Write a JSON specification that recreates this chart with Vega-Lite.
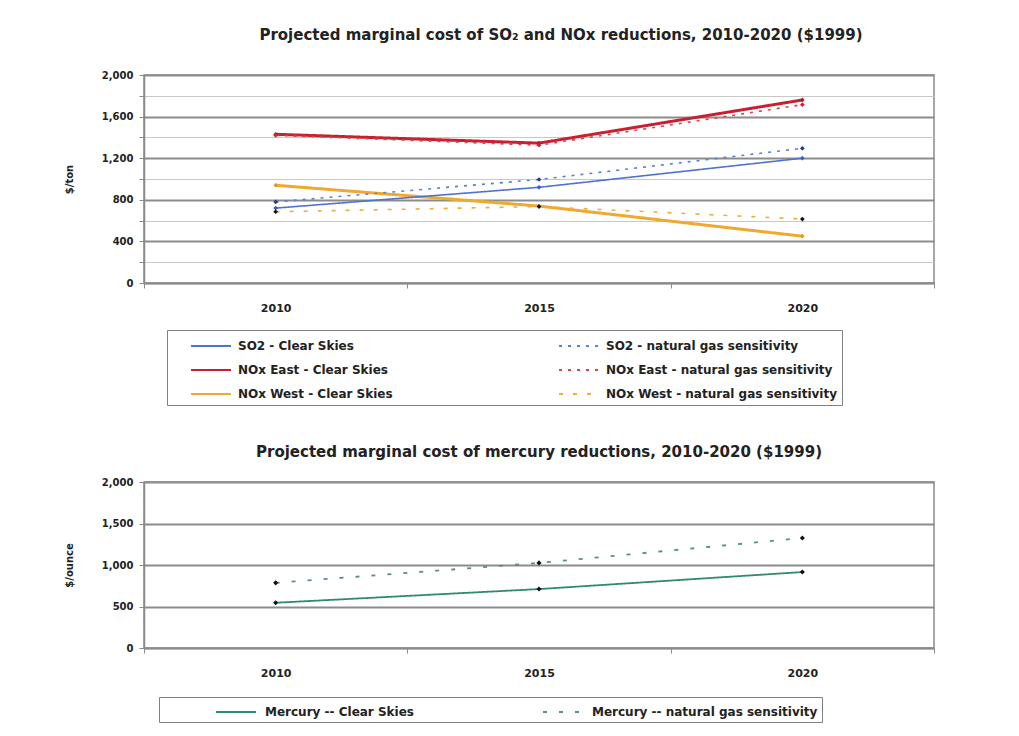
{
  "$schema": "https://vega.github.io/schema/vega-lite/v6.json",
  "background": "white",
  "padding": {"left": 63, "top": 27, "right": 30, "bottom": 0},
  "spacing": 37,
  "config": {
    "font": "DejaVu Sans",
    "view": {"stroke": "#8a8a8a", "strokeWidth": 1.5},
    "axis": {"labelFont": "DejaVu Sans", "labelFontWeight": "bold", "labelFontSize": 10, "labelColor": "#222", "titleFont": "DejaVu Sans", "titleFontWeight": "bold", "titleFontSize": 10, "titleColor": "#222", "domainColor": "#8a8a8a", "tickColor": "#8a8a8a"},
    "title": {"font": "DejaVu Sans", "fontSize": 15, "fontWeight": "bold", "color": "#222"},
    "legend": {"labelFont": "DejaVu Sans", "labelFontWeight": "bold", "labelFontSize": 12, "labelColor": "#222", "strokeColor": "#808080", "fillColor": "white", "padding": 5}
  },
  "resolve": {"scale": {"stroke": "independent", "strokeDash": "independent", "fill": "independent", "color": "independent", "x": "independent", "y": "independent"}, "legend": {"stroke": "independent", "strokeDash": "independent"}},
  "vconcat": [
    {
      "title": {"text": "Projected marginal cost of SO₂ and NOx reductions, 2010-2020 ($1999)", "dx": 22, "offset": 27},
      "width": 790,
      "height": 208,
      "data": {"values": [
        {"year": "2010", "series": "SO2 - Clear Skies", "value": 720},
        {"year": "2015", "series": "SO2 - Clear Skies", "value": 920},
        {"year": "2020", "series": "SO2 - Clear Skies", "value": 1200},
        {"year": "2010", "series": "SO2 - natural gas sensitivity", "value": 780},
        {"year": "2015", "series": "SO2 - natural gas sensitivity", "value": 995},
        {"year": "2020", "series": "SO2 - natural gas sensitivity", "value": 1295},
        {"year": "2010", "series": "NOx East - Clear Skies", "value": 1430},
        {"year": "2015", "series": "NOx East - Clear Skies", "value": 1345},
        {"year": "2020", "series": "NOx East - Clear Skies", "value": 1760},
        {"year": "2010", "series": "NOx East - natural gas sensitivity", "value": 1420},
        {"year": "2015", "series": "NOx East - natural gas sensitivity", "value": 1325},
        {"year": "2020", "series": "NOx East - natural gas sensitivity", "value": 1715},
        {"year": "2010", "series": "NOx West - Clear Skies", "value": 940},
        {"year": "2015", "series": "NOx West - Clear Skies", "value": 740},
        {"year": "2020", "series": "NOx West - Clear Skies", "value": 450},
        {"year": "2010", "series": "NOx West - natural gas sensitivity", "value": 685},
        {"year": "2015", "series": "NOx West - natural gas sensitivity", "value": 735},
        {"year": "2020", "series": "NOx West - natural gas sensitivity", "value": 615}
      ]},
      "encoding": {
        "x": {"field": "year", "type": "ordinal", "sort": null, "scale": {"type": "band", "paddingInner": 0, "paddingOuter": 0},
          "axis": {"title": null, "labelAngle": 0, "grid": false, "tickBand": "extent", "tickSize": 5, "labelPadding": 14, "labelFontSize": 11, "domainWidth": 1.5}},
        "y": {"field": "value", "type": "quantitative", "scale": {"domain": [0, 2000], "nice": false},
          "axis": {"title": "$/ton", "values": [0, 200, 400, 600, 800, 1000, 1200, 1400, 1600, 1800, 2000], "labelOverlap": false,
            "labelExpr": "datum.value % 400 === 0 ? format(datum.value, ',') : ''",
            "gridColor": {"condition": {"test": "datum.value % 400 === 0", "value": "#8c8c8c"}, "value": "#c8c8c8"},
            "gridWidth": {"condition": {"test": "datum.value % 400 === 0", "value": 2}, "value": 1.2},
            "tickSize": 5, "labelPadding": 6, "titlePadding": 27, "domainWidth": 1.5}}
      },
      "layer": [
        {
          "transform": [{"filter": "indexof(['NOx East - Clear Skies','NOx West - Clear Skies'], datum.series) >= 0"}],
          "mark": {"type": "line", "strokeWidth": 3},
          "encoding": {
            "stroke": {"field": "series", "type": "nominal",
              "scale": {"domain": ["SO2 - Clear Skies", "SO2 - natural gas sensitivity", "NOx East - Clear Skies", "NOx East - natural gas sensitivity", "NOx West - Clear Skies", "NOx West - natural gas sensitivity"],
                "range": ["#4f72d0", "#5a7fd8", "#c8202e", "#e0404a", "#f0a830", "#e8b040"]},
              "legend": {"orient": "none", "legendX": 23, "legendY": 255, "direction": "horizontal", "columns": 2, "columnPadding": 147, "rowPadding": 7, "symbolType": "M-2,0H2", "symbolSize": 400, "symbolStrokeWidth": 2, "symbolOffset": 28, "labelOffset": 16, "title": null, "labelLimit": 400}},
            "strokeDash": {"field": "series", "type": "nominal",
              "scale": {"domain": ["SO2 - Clear Skies", "SO2 - natural gas sensitivity", "NOx East - Clear Skies", "NOx East - natural gas sensitivity", "NOx West - Clear Skies", "NOx West - natural gas sensitivity"],
                "range": [[1, 0], [3, 6], [1, 0], [3, 6], [1, 0], [4, 10]]},
              "legend": {"orient": "none", "legendX": 23, "legendY": 255, "direction": "horizontal", "columns": 2, "columnPadding": 147, "rowPadding": 7, "symbolType": "M-2,0H2", "symbolSize": 400, "symbolStrokeWidth": 2, "symbolOffset": 28, "labelOffset": 16, "title": null, "labelLimit": 400}}
          }
        },
        {
          "transform": [{"filter": "indexof(['NOx East - Clear Skies','NOx West - Clear Skies'], datum.series) < 0"}],
          "mark": {"type": "line", "strokeWidth": 1.6},
          "encoding": {
            "stroke": {"field": "series", "type": "nominal"},
            "strokeDash": {"field": "series", "type": "nominal"}
          }
        },
        {
          "mark": {"type": "point", "filled": true, "size": 22, "shape": "diamond", "opacity": 1},
          "encoding": {
            "fill": {"field": "series", "type": "nominal", "legend": null,
              "scale": {"domain": ["SO2 - Clear Skies", "SO2 - natural gas sensitivity", "NOx East - Clear Skies", "NOx East - natural gas sensitivity", "NOx West - Clear Skies", "NOx West - natural gas sensitivity"],
                "range": ["#3d5fc0", "#2e3a80", "#b01828", "#c02838", "#e09a20", "#111111"]}}
          }
        }
      ]
    },
    {
      "title": {"text": "Projected marginal cost of mercury reductions, 2010-2020 ($1999)", "offset": 17},
      "width": 790,
      "height": 166,
      "data": {"values": [
        {"year": "2010", "series": "Mercury -- Clear Skies", "value": 545},
        {"year": "2015", "series": "Mercury -- Clear Skies", "value": 710},
        {"year": "2020", "series": "Mercury -- Clear Skies", "value": 915},
        {"year": "2010", "series": "Mercury -- natural gas sensitivity", "value": 785},
        {"year": "2015", "series": "Mercury -- natural gas sensitivity", "value": 1025},
        {"year": "2020", "series": "Mercury -- natural gas sensitivity", "value": 1325}
      ]},
      "encoding": {
        "x": {"field": "year", "type": "ordinal", "sort": null, "scale": {"type": "band", "paddingInner": 0, "paddingOuter": 0},
          "axis": {"title": null, "labelAngle": 0, "grid": false, "tickBand": "extent", "tickSize": 5, "labelPadding": 14, "labelFontSize": 11, "domainWidth": 1.5}},
        "y": {"field": "value", "type": "quantitative", "scale": {"domain": [0, 2000], "nice": false},
          "axis": {"title": "$/ounce", "values": [0, 500, 1000, 1500, 2000], "labelExpr": "format(datum.value, ',')", "labelOverlap": false, "gridColor": "#8c8c8c", "gridWidth": 2,
            "tickSize": 5, "labelPadding": 6, "titlePadding": 27, "domainWidth": 1.5}}
      },
      "layer": [
        {
          "mark": {"type": "line", "strokeWidth": 1.8},
          "encoding": {
            "stroke": {"field": "series", "type": "nominal",
              "scale": {"domain": ["Mercury -- Clear Skies", "Mercury -- natural gas sensitivity"], "range": ["#2e8c66", "#5a8f78"]},
              "legend": {"orient": "none", "legendX": 15, "legendY": 215, "direction": "horizontal", "columns": 2, "columnPadding": 76, "symbolType": "M-2,0H2", "symbolSize": 400, "symbolStrokeWidth": 2, "symbolOffset": 62, "labelOffset": 18, "title": null, "labelLimit": 400, "padding": 4}},
            "strokeDash": {"field": "series", "type": "nominal",
              "scale": {"domain": ["Mercury -- Clear Skies", "Mercury -- natural gas sensitivity"], "range": [[1, 0], [4, 12]]},
              "legend": {"orient": "none", "legendX": 15, "legendY": 215, "direction": "horizontal", "columns": 2, "columnPadding": 76, "symbolType": "M-2,0H2", "symbolSize": 400, "symbolStrokeWidth": 2, "symbolOffset": 62, "labelOffset": 18, "title": null, "labelLimit": 400, "padding": 4}}
          }
        },
        {
          "mark": {"type": "point", "filled": true, "size": 26, "shape": "diamond", "opacity": 1},
          "encoding": {
            "fill": {"field": "series", "type": "nominal", "legend": null,
              "scale": {"domain": ["Mercury -- Clear Skies", "Mercury -- natural gas sensitivity"], "range": ["#111111", "#111111"]}}
          }
        }
      ]
    }
  ]
}
